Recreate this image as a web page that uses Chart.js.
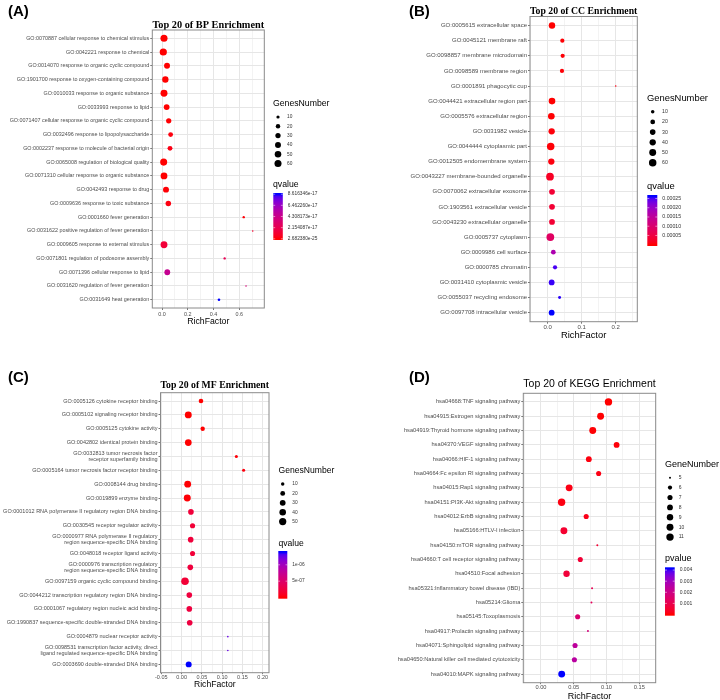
<!DOCTYPE html>
<html>
<head>
<meta charset="utf-8">
<script src="https://cdn.jsdelivr.net/npm/chart.js@4"></script>
<style>
  body { margin: 0; background: #fff; }
  #wrap { position: relative; width: 720px; height: 700px; overflow: hidden; }
  #wrap canvas { position: absolute; }
  .tag { position: absolute; font: bold 15px "Liberation Sans", Arial, sans-serif; line-height: 15px; color: #000; }
</style>
</head>
<body>
<div id="wrap">
  <canvas id="bp" width="360" height="350" style="left:0;top:0"></canvas>
  <canvas id="cc" width="360" height="350" style="left:360px;top:0"></canvas>
  <canvas id="mf" width="360" height="350" style="left:0;top:350px"></canvas>
  <canvas id="kegg" width="360" height="352" style="left:360px;top:350px"></canvas>
  <div class="tag" style="left:8px;top:3px">(A)</div>
  <div class="tag" style="left:409px;top:3px">(B)</div>
  <div class="tag" style="left:8px;top:369px">(C)</div>
  <div class="tag" style="left:409px;top:369px">(D)</div>
</div>
<script>
// --- BP ---
const bpTerms = [
  'GO:0070887 cellular response to chemical stimulus',
  'GO:0042221 response to chemical',
  'GO:0014070 response to organic cyclic compound',
  'GO:1901700 response to oxygen-containing compound',
  'GO:0010033 response to organic substance',
  'GO:0033993 response to lipid',
  'GO:0071407 cellular response to organic cyclic compound',
  'GO:0032496 response to lipopolysaccharide',
  'GO:0002237 response to molecule of bacterial origin',
  'GO:0065008 regulation of biological quality',
  'GO:0071310 cellular response to organic substance',
  'GO:0042493 response to drug',
  'GO:0009636 response to toxic substance',
  'GO:0001660 fever generation',
  'GO:0031622 positive regulation of fever generation',
  'GO:0009605 response to external stimulus',
  'GO:0071801 regulation of podosome assembly',
  'GO:0071396 cellular response to lipid',
  'GO:0031620 regulation of fever generation',
  'GO:0031649 heat generation'
];
const bpRich = [0.0155, 0.010, 0.039, 0.026, 0.0155, 0.036, 0.052, 0.067, 0.062, 0.013,
                0.0155, 0.031, 0.049, 0.634, 0.704, 0.0155, 0.486, 0.041, 0.652, 0.442];
const bpGenes = [60, 63, 40, 47, 58, 38, 30, 24, 25, 60, 55, 40, 33, 6, 5, 57, 6, 38, 5, 7];
const bpQ = [2.682380e-25, 3.1e-25, 1.2e-21, 5.0e-22, 2.0e-24, 3.5e-20, 4.0e-19, 2.0e-18, 3.0e-18, 1.5e-23,
             6.0e-23, 8.0e-19, 2.5e-18, 1.0e-18, 1.0e-17, 1.3e-17, 2.3e-17, 4.6e-17, 3.6e-17, 8.616346e-17];
const bpSizeBreaks = [10, 20, 30, 40, 50, 60];
const bpColorLabels = ['8.616346e-17', '6.462260e-17', '4.308173e-17', '2.154087e-17', '2.682380e-25'];
const bpXTicks = [0, 0.2, 0.4, 0.6];
const bpXLabels = ['0.0', '0.2', '0.4', '0.6'];
const bpXMinor = [0.1, 0.3, 0.5, 0.7];

// --- CC ---
const ccTerms = [
  'GO:0005615 extracellular space',
  'GO:0045121 membrane raft',
  'GO:0098857 membrane microdomain',
  'GO:0098589 membrane region',
  'GO:0001891 phagocytic cup',
  'GO:0044421 extracellular region part',
  'GO:0005576 extracellular region',
  'GO:0031982 vesicle',
  'GO:0044444 cytoplasmic part',
  'GO:0012505 endomembrane system',
  'GO:0043227 membrane-bounded organelle',
  'GO:0070062 extracellular exosome',
  'GO:1903561 extracellular vesicle',
  'GO:0043230 extracellular organelle',
  'GO:0005737 cytoplasm',
  'GO:0009986 cell surface',
  'GO:0000785 chromatin',
  'GO:0031410 cytoplasmic vesicle',
  'GO:0055037 recycling endosome',
  'GO:0097708 intracellular vesicle'
];
const ccRich = [0.0127, 0.043, 0.044, 0.042, 0.200, 0.0127, 0.0107, 0.0117, 0.0088, 0.0107,
                0.0068, 0.0127, 0.0127, 0.0127, 0.0078, 0.0166, 0.0216, 0.0117, 0.035, 0.0117];
const ccGenes = [42, 15, 15, 15, 4, 45, 45, 40, 60, 40, 65, 32, 32, 32, 66, 20, 15, 33, 7, 33];
const ccQ = [1e-8, 2e-6, 2.5e-6, 3e-6, 8e-6, 5e-7, 1e-6, 4e-6, 3e-6, 6e-6,
             2.2e-5, 3.6e-5, 3.6e-5, 3.6e-5, 8.5e-5, 1.75e-4, 2.5e-4, 2.55e-4, 2.58e-4, 2.62e-4];
const ccSizeBreaks = [10, 20, 30, 40, 50, 60];
const ccColorLabels = ['0.00025', '0.00020', '0.00015', '0.00010', '0.00005'];
const ccXTicks = [0, 0.1, 0.2];
const ccXLabels = ['0.0', '0.1', '0.2'];
const ccXMinor = [-0.05, 0.05, 0.15, 0.25];

// --- MF ---
const mfTerms = [
  'GO:0005126 cytokine receptor binding',
  'GO:0005102 signaling receptor binding',
  'GO:0005125 cytokine activity',
  'GO:0042802 identical protein binding',
  'GO:0032813 tumor necrosis factor\nreceptor superfamily binding',
  'GO:0005164 tumor necrosis factor receptor binding',
  'GO:0008144 drug binding',
  'GO:0019899 enzyme binding',
  'GO:0001012 RNA polymerase II regulatory region DNA binding',
  'GO:0030545 receptor regulator activity',
  'GO:0000977 RNA polymerase II regulatory\nregion sequence-specific DNA binding',
  'GO:0048018 receptor ligand activity',
  'GO:0000976 transcription regulatory\nregion sequence-specific DNA binding',
  'GO:0097159 organic cyclic compound binding',
  'GO:0044212 transcription regulatory region DNA binding',
  'GO:0001067 regulatory region nucleic acid binding',
  'GO:1990837 sequence-specific double-stranded DNA binding',
  'GO:0004879 nuclear receptor activity',
  'GO:0098531 transcription factor activity, direct\nligand regulated sequence-specific DNA binding',
  'GO:0003690 double-stranded DNA binding'
];
const mfRich = [0.0478, 0.0165, 0.052, 0.0165, 0.135, 0.153, 0.015, 0.014, 0.023, 0.027,
                0.0224, 0.027, 0.0215, 0.0084, 0.019, 0.019, 0.020, 0.114, 0.114, 0.0175];
const mfGenes = [18, 45, 16, 42, 8, 8, 44, 46, 28, 23, 28, 22, 28, 56, 28, 28, 28, 5, 5, 32];
const mfQ = [2e-9, 1e-9, 3e-9, 5e-9, 2e-8, 3e-8, 1e-8, 1.5e-8, 2.2e-7, 2e-7,
             2.3e-7, 2.1e-7, 2.4e-7, 2e-7, 2.5e-7, 2.5e-7, 2.6e-7, 1.25e-6, 1.25e-6, 1.385e-6];
const mfSizeBreaks = [10, 20, 30, 40, 50];
const mfColorLabels = ['1e-06', '5e-07'];
const mfXTicks = [-0.05, 0, 0.05, 0.10, 0.15, 0.20];
const mfXLabels = ['-0.05', '0.00', '0.05', '0.10', '0.15', '0.20'];
const mfXMinor = [-0.025, 0.025, 0.075, 0.125, 0.175];

// --- KEGG ---
const keggTerms = [
  'hsa04668:TNF signaling pathway',
  'hsa04915:Estrogen signaling pathway',
  'hsa04919:Thyroid hormone signaling pathway',
  'hsa04370:VEGF signaling pathway',
  'hsa04066:HIF-1 signaling pathway',
  'hsa04664:Fc epsilon RI signaling pathway',
  'hsa04015:Rap1 signaling pathway',
  'hsa04151:PI3K-Akt signaling pathway',
  'hsa04012:ErbB signaling pathway',
  'hsa05166:HTLV-I infection',
  'hsa04150:mTOR signaling pathway',
  'hsa04660:T cell receptor signaling pathway',
  'hsa04510:Focal adhesion',
  'hsa05321:Inflammatory bowel disease (IBD)',
  'hsa05214:Glioma',
  'hsa05145:Toxoplasmosis',
  'hsa04917:Prolactin signaling pathway',
  'hsa04071:Sphingolipid signaling pathway',
  'hsa04650:Natural killer cell mediated cytotoxicity',
  'hsa04010:MAPK signaling pathway'
];
const keggRich = [0.103, 0.091, 0.079, 0.1154, 0.073, 0.088, 0.043, 0.0315, 0.069, 0.035,
                  0.086, 0.060, 0.039, 0.078, 0.077, 0.056, 0.0717, 0.052, 0.051, 0.0316];
const keggGenes = [11, 10, 10, 8, 8, 7, 10, 11, 7, 10, 5, 7, 9, 5, 5, 7, 5, 7, 7, 10];
const keggP = [2e-6, 1.5e-5, 3e-5, 6e-5, 1e-4, 1.5e-4, 1.5e-4, 1.2e-4, 2e-4, 5e-4,
               5.5e-4, 6e-4, 6.5e-4, 1.1e-3, 1.2e-3, 1.6e-3, 1.8e-3, 2.4e-3, 2.5e-3, 4.14e-3];
const keggSizeBreaks = [5, 6, 7, 8, 9, 10, 11];
const keggColorLabels = ['0.004', '0.003', '0.002', '0.001'];
const keggXTicks = [0, 0.05, 0.10, 0.15];
const keggXLabels = ['0.00', '0.05', '0.10', '0.15'];
const keggXMinor = [-0.025, 0.025, 0.075, 0.125, 0.175];

const SANS = '"Liberation Sans", Arial, Helvetica, sans-serif';
const SERIF = '"Liberation Serif", "Times New Roman", serif';

// red -> blue gradient in Lab space (like ggplot's scale_colour_gradient)
function toLin(c) { c /= 255; return c <= 0.04045 ? c / 12.92 : Math.pow((c + 0.055) / 1.055, 2.4); }
function fromLin(c) {
  c = c <= 0.0031308 ? 12.92 * c : 1.055 * Math.pow(c, 1 / 2.4) - 0.055;
  return Math.round(Math.max(0, Math.min(1, c)) * 255);
}
function rgbToLab(rgb) {
  const R = toLin(rgb[0]), G = toLin(rgb[1]), B = toLin(rgb[2]);
  const X = (0.4124564 * R + 0.3575761 * G + 0.1804375 * B) / 0.95047;
  const Y = 0.2126729 * R + 0.7151522 * G + 0.0721750 * B;
  const Z = (0.0193339 * R + 0.1191920 * G + 0.9503041 * B) / 1.08883;
  const f = t => t > 216 / 24389 ? Math.cbrt(t) : (24389 / 27 * t + 16) / 116;
  return [116 * f(Y) - 16, 500 * (f(X) - f(Y)), 200 * (f(Y) - f(Z))];
}
function labToRgb(lab) {
  const fy = (lab[0] + 16) / 116, fx = fy + lab[1] / 500, fz = fy - lab[2] / 200;
  const inv = t => t * t * t > 216 / 24389 ? t * t * t : (116 * t - 16) / (24389 / 27);
  const X = inv(fx) * 0.95047, Y = inv(fy), Z = inv(fz) * 1.08883;
  return [
    fromLin(3.2404542 * X - 1.5371385 * Y - 0.4985314 * Z),
    fromLin(-0.9692660 * X + 1.8760108 * Y + 0.0415560 * Z),
    fromLin(0.0556434 * X - 0.2040259 * Y + 1.0572252 * Z)
  ];
}
const LAB_LOW = rgbToLab([255, 0, 0]);
const LAB_HIGH = rgbToLab([0, 0, 255]);
function gradient(t) {
  t = Math.max(0, Math.min(1, t));
  const c = labToRgb(LAB_LOW.map((v, i) => v + (LAB_HIGH[i] - v) * t));
  return `rgb(${c[0]},${c[1]},${c[2]})`;
}

const panels = [
  {
    canvas: 'bp', title: 'Top 20 of BP Enrichment', height: 350,
    titleFont: { family: SERIF, size: 10.3, weight: 'bold', lineHeight: 1 }, titlePadB: 0,
    terms: bpTerms, rich: bpRich, genes: bpGenes, q: bpQ,
    xMin: -0.0753, xMax: 0.7937, xTicks: bpXTicks, xLabels: bpXLabels, xMinor: bpXMinor,
    plot: { left: 152.3, right: 264.3, top: 30, bottom: 308 },
    xTitleY: 321.7, tickFont: 5.4, axisTitle: 8.7, legendFont: 4.8, xTickLen: 2, xTickPad: 1,
    rMin: 0.8, rMax: 3.6,
    sizeTitle: 'GenesNumber', sizeBreaks: bpSizeBreaks, colorTitle: 'qvalue', colorLabels: bpColorLabels,
    legend: { x: 273, sizeTitleY: 104, itemY: 117, itemDy: 9.3, dotDx: 5, labelDx: 14,
              colorTitleY: 185, barX: 273.3, barW: 9.5, barTop: 193, barBot: 240 }
  },
  {
    canvas: 'cc', title: 'Top 20 of CC Enrichment', height: 350,
    titleFont: { family: SERIF, size: 9.8, weight: 'bold', lineHeight: 1 }, titlePadB: 0.5,
    terms: ccTerms, rich: ccRich, genes: ccGenes, q: ccQ,
    xMin: -0.052, xMax: 0.2635, xTicks: ccXTicks, xLabels: ccXLabels, xMinor: ccXMinor,
    plot: { left: 170, right: 277.3, top: 16.5, bottom: 321.7 },
    xTitleY: 335.7, tickFont: 6.0, axisTitle: 9.4, legendFont: 5.2, xTickLen: 2, xTickPad: 0,
    rMin: 0.8, rMax: 3.9,
    sizeTitle: 'GenesNumber', sizeBreaks: ccSizeBreaks, colorTitle: 'qvalue', colorLabels: ccColorLabels,
    legend: { x: 287, sizeTitleY: 98, itemY: 111.7, itemDy: 10.2, dotDx: 5.7, labelDx: 15,
              colorTitleY: 186, barX: 287.3, barW: 10, barTop: 195, barBot: 246 }
  },
  {
    canvas: 'mf', title: 'Top 20 of MF Enrichment', height: 350,
    titleFont: { family: SERIF, size: 10.5, weight: 'bold', lineHeight: 1 }, titlePadB: 2.2,
    terms: mfTerms, rich: mfRich, genes: mfGenes, q: mfQ,
    xMin: -0.052, xMax: 0.2155, xTicks: mfXTicks, xLabels: mfXLabels, xMinor: mfXMinor,
    plot: { left: 160.5, right: 269, top: 42.7, bottom: 322.7 },
    xTitleY: 335, tickFont: 5.5, axisTitle: 8.6, legendFont: 4.8, xTickLen: 1.5, xTickPad: 0,
    rMin: 0.8, rMax: 3.8,
    sizeTitle: 'GenesNumber', sizeBreaks: mfSizeBreaks, colorTitle: 'qvalue', colorLabels: mfColorLabels,
    legend: { x: 278.5, sizeTitleY: 121, itemY: 134, itemDy: 9.4, dotDx: 4.2, labelDx: 13.8,
              colorTitleY: 193.3, barX: 278.3, barW: 9, barTop: 201, barBot: 248.7 }
  },
  {
    // canvas is 2px taller than the page cell so the axis title can sit as low as in the reference
    canvas: 'kegg', title: 'Top 20 of KEGG Enrichment', height: 352,
    titleFont: { family: SANS, size: 10.7, weight: 'normal', lineHeight: 1 }, titlePadB: 3.5,
    terms: keggTerms, rich: keggRich, genes: keggGenes, q: keggP,
    xMin: -0.027, xMax: 0.1751, xTicks: keggXTicks, xLabels: keggXLabels, xMinor: keggXMinor,
    plot: { left: 163.3, right: 295.7, top: 43.3, bottom: 332.7 },
    xTitleY: 346.7, tickFont: 5.7, axisTitle: 9.0, legendFont: 5.0, xTickLen: 1.5, xTickPad: 0,
    rMin: 1.0, rMax: 3.7,
    sizeTitle: 'GeneNumber', sizeBreaks: keggSizeBreaks, colorTitle: 'pvalue', colorLabels: keggColorLabels,
    legend: { x: 305, sizeTitleY: 114.3, itemY: 127.7, itemDy: 9.9, dotDx: 5, labelDx: 13.7,
              colorTitleY: 209, barX: 305, barW: 9.7, barTop: 217.3, barBot: 265.7 }
  }
];

function makeChart(p) {
  const lo = Math.min(...p.genes), hi = Math.max(...p.genes);
  const radius = n => p.rMin + (p.rMax - p.rMin) * Math.sqrt(Math.max(0, (n - lo) / (hi - lo)));
  const qMin = Math.min(...p.q), qMax = Math.max(...p.q);
  const frac = v => (v - qMin) / (qMax - qMin);
  const isMajor = v => p.xTicks.some(t => Math.abs(t - v) < 1e-9);
  const allX = p.xTicks.concat(p.xMinor).sort((a, b) => a - b);

  const titleH = p.titleFont.size;
  const xAxisBottom = p.xTitleY + p.axisTitle / 2;
  const padTop = p.plot.top - titleH - p.titlePadB;

  // border + size legend + colour bar
  const extras = {
    id: 'panelExtras',
    afterDraw(chart) {
      const { ctx, chartArea: a } = chart;
      const L = p.legend;
      ctx.save();
      ctx.strokeStyle = '#8a8a8a';
      ctx.lineWidth = 1;
      ctx.strokeRect(a.left, a.top, a.right - a.left, a.bottom - a.top);

      ctx.textAlign = 'left';
      ctx.textBaseline = 'middle';
      ctx.fillStyle = '#000';
      ctx.font = `${p.axisTitle}px ${SANS}`;
      ctx.fillText(p.sizeTitle, L.x, L.sizeTitleY);
      p.sizeBreaks.forEach((n, i) => {
        const y = L.itemY + i * L.itemDy;
        ctx.fillStyle = '#000';
        ctx.beginPath();
        ctx.arc(L.x + L.dotDx, y, radius(n), 0, Math.PI * 2);
        ctx.fill();
        ctx.fillStyle = '#333';
        ctx.font = `${p.legendFont}px ${SANS}`;
        ctx.fillText(String(n), L.x + L.labelDx, y);
      });

      ctx.fillStyle = '#000';
      ctx.font = `${p.axisTitle}px ${SANS}`;
      ctx.fillText(p.colorTitle, L.x, L.colorTitleY);
      const h = L.barBot - L.barTop;
      const g = ctx.createLinearGradient(0, L.barBot, 0, L.barTop);
      for (let i = 0; i <= 20; i++) g.addColorStop((0.5 + i * 19 / 20) / 20, gradient(i / 20));
      ctx.fillStyle = g;
      ctx.fillRect(L.barX, L.barTop, L.barW, h);
      ctx.font = `${p.legendFont}px ${SANS}`;
      p.colorLabels.forEach(lab => {
        const y = L.barBot - h * (0.5 + frac(Number(lab)) * 19) / 20;
        ctx.strokeStyle = '#fff';
        ctx.lineWidth = 0.5;
        ctx.beginPath();
        ctx.moveTo(L.barX, y); ctx.lineTo(L.barX + L.barW / 5, y);
        ctx.moveTo(L.barX + L.barW, y); ctx.lineTo(L.barX + L.barW * 4 / 5, y);
        ctx.stroke();
        ctx.fillStyle = '#333';
        ctx.fillText(lab, L.barX + L.barW + 5, y);
      });
      ctx.restore();
    }
  };

  new Chart(document.getElementById(p.canvas), {
    type: 'bubble',
    data: {
      datasets: [{
        data: p.terms.map((t, i) => ({ x: p.rich[i], y: i, r: radius(p.genes[i]) })),
        backgroundColor: p.q.map(v => gradient(frac(v))),
        borderWidth: 0
      }]
    },
    options: {
      responsive: false,
      animation: false,
      events: [],
      layout: {
        padding: { left: 0, top: padTop, right: 360 - p.plot.right, bottom: p.height - xAxisBottom }
      },
      plugins: {
        legend: { display: false },
        tooltip: { enabled: false },
        title: {
          display: true, text: p.title, fullSize: false, color: '#000',
          font: p.titleFont, padding: { top: 0, bottom: p.titlePadB }
        }
      },
      scales: {
        x: {
          type: 'linear', min: p.xMin, max: p.xMax,
          afterBuildTicks: ax => { ax.ticks = allX.map(v => ({ value: v })); },
          afterFit: ax => { ax.height = xAxisBottom - p.plot.bottom; },
          ticks: {
            autoSkip: false, maxRotation: 0, padding: p.xTickPad, color: '#4d4d4d',
            font: { family: SANS, size: p.tickFont },
            callback: v => { const k = p.xTicks.findIndex(t => Math.abs(t - v) < 1e-9); return k >= 0 ? p.xLabels[k] : ''; }
          },
          grid: {
            tickLength: p.xTickLen,
            color: c => (c.tick && isMajor(c.tick.value)) ? '#e6e6e6' : '#f3f3f3',
            tickColor: c => (c.tick && isMajor(c.tick.value)) ? '#777' : 'rgba(0,0,0,0)'
          },
          border: { display: false },
          title: { display: true, text: 'RichFactor', color: '#000', padding: 0,
                   font: { family: SANS, size: p.axisTitle, lineHeight: 1 } }
        },
        y: {
          type: 'linear', min: -0.6, max: p.terms.length - 0.4, reverse: true,
          afterBuildTicks: ax => { ax.ticks = p.terms.map((t, i) => ({ value: i })); },
          afterFit: ax => { ax.width = p.plot.left; },
          ticks: {
            autoSkip: false, padding: 1, color: '#4d4d4d',
            font: { family: SANS, size: p.tickFont, lineHeight: 1.05 },
            callback: v => p.terms[v] ? p.terms[v].split('\n') : ''
          },
          grid: { tickLength: 2, color: '#e6e6e6', tickColor: '#777' },
          border: { display: false }
        }
      }
    },
    plugins: [extras]
  });
}

panels.forEach(makeChart);
</script>
</body>
</html>
